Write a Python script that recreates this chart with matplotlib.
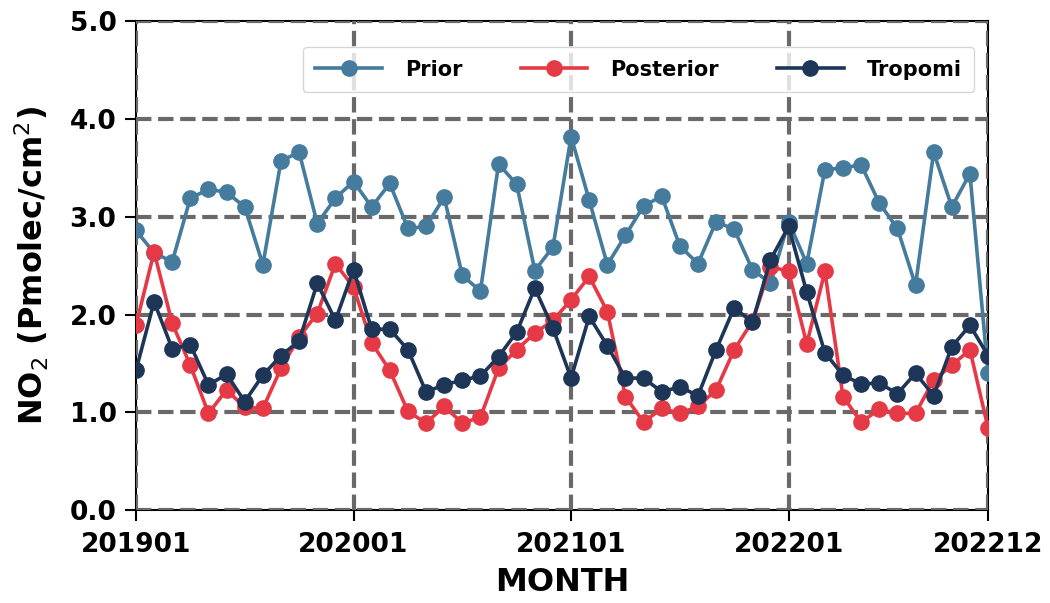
import matplotlib
matplotlib.use("Agg")
import matplotlib.pyplot as plt

# months 201901 .. 202212
months = [f"{y}{m:02d}" for y in range(2019, 2023) for m in range(1, 13)]
tick_idx = [0, 12, 24, 36, 47]

prior = [2.86, 2.63, 2.54, 3.19, 3.28, 3.25, 3.10, 2.51, 3.57, 3.66, 2.93, 3.19,
         3.36, 3.10, 3.34, 2.88, 2.90, 3.20, 2.40, 2.24, 3.54, 3.33, 2.45, 2.69,
         3.82, 3.17, 2.51, 2.81, 3.11, 3.21, 2.70, 2.52, 2.95, 2.87, 2.46, 2.32,
         2.95, 2.52, 3.48, 3.50, 3.53, 3.14, 2.88, 2.30, 3.66, 3.10, 3.44, 1.40]

posterior = [1.89, 2.64, 1.91, 1.48, 0.99, 1.23, 1.05, 1.04, 1.45, 1.77, 2.01, 2.52,
             2.28, 1.71, 1.43, 1.01, 0.89, 1.06, 0.89, 0.95, 1.45, 1.64, 1.81, 1.94,
             2.15, 2.39, 2.03, 1.16, 0.90, 1.04, 0.99, 1.06, 1.23, 1.64, 1.93, 2.49,
             2.44, 1.70, 2.44, 1.16, 0.90, 1.03, 0.99, 0.99, 1.33, 1.48, 1.64, 0.84]

tropomi = [1.43, 2.13, 1.65, 1.69, 1.28, 1.39, 1.11, 1.38, 1.58, 1.73, 2.32, 1.94,
           2.46, 1.85, 1.85, 1.64, 1.21, 1.28, 1.33, 1.37, 1.57, 1.82, 2.27, 1.86,
           1.35, 1.98, 1.68, 1.35, 1.35, 1.21, 1.26, 1.17, 1.64, 2.07, 1.92, 2.56,
           2.90, 2.23, 1.61, 1.38, 1.29, 1.30, 1.19, 1.40, 1.17, 1.67, 1.89, 1.58]

series = [("Prior", prior, "#457b9d"),
          ("Posterior", posterior, "#e63946"),
          ("Tropomi", tropomi, "#1d3557")]

fig = plt.figure(figsize=(10.5, 6.03), dpi=100)
ax = fig.add_axes([0.1295, 0.154, 0.8115, 0.811])

x = list(range(len(months)))
for name, vals, col in series:
    ax.plot(x, vals, color=col, lw=2.6, marker="o", ms=11, label=name, zorder=3)

ax.set_xlim(0, 47)
ax.set_ylim(0, 5)
ax.set_xticks(tick_idx)
ax.set_xticklabels([months[i] for i in tick_idx])
ax.set_yticks([0, 1, 2, 3, 4, 5])
ax.set_yticklabels([f"{v:.1f}" for v in range(6)])

ax.grid(True, ls="--", lw=3, color="dimgray", zorder=2)
ax.set_axisbelow(False)

for lab in ax.get_xticklabels() + ax.get_yticklabels():
    lab.set_fontweight("bold")
    lab.set_fontsize(19)
ax.tick_params(length=8, width=1.5, pad=6)
ax.tick_params(axis="x", pad=8)
for s in ax.spines.values():
    s.set_linewidth(1.5)

ax.set_xlabel("MONTH", fontsize=23, fontweight="bold", labelpad=6)
ax.set_ylabel(r"NO$_2$ (Pmolec/cm$^2$)", fontsize=23, fontweight="bold", labelpad=13)

ax.legend(loc="upper right", ncol=3, prop={"weight": "bold", "size": 15},
          handlelength=3.2, handletextpad=1.1, columnspacing=2.8,
          bbox_to_anchor=(0.996, 0.968), borderpad=0.6)

fig.savefig("out.png", dpi=100)
